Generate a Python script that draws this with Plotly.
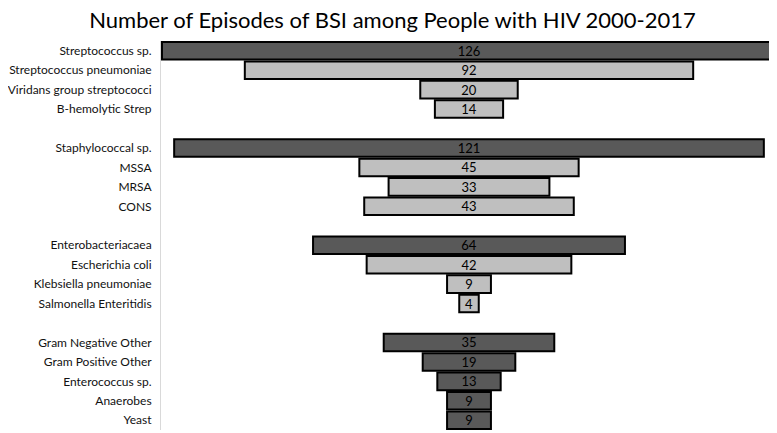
import plotly.graph_objects as go

# categories top to bottom; blank entries are the gaps between groups
categories = [
    "Streptococcus sp.", "Streptococcus pneumoniae", "Viridans group streptococci", "B-hemolytic Strep",
    " ",
    "Staphylococcal sp.", "MSSA", "MRSA", "CONS",
    "  ",
    "Enterobacteriacaea", "Escherichia coli", "Klebsiella pneumoniae", "Salmonella Enteritidis",
    "   ",
    "Gram Negative Other", "Gram Positive Other", "Enterococcus sp.", "Anaerobes", "Yeast",
]
episodes = [126, 92, 20, 14, None, 121, 45, 33, 43, None, 64, 42, 9, 4, None, 35, 19, 13, 9, 9]
shade = ["dark", "light", "light", "light", None,
         "dark", "light", "light", "light", None,
         "dark", "light", "light", "light", None,
         "dark", "dark", "dark", "dark", "dark"]

colours = {"dark": "#595959", "light": "#bfbfbf", None: "rgba(0,0,0,0)"}

widths = [v if v is not None else 0 for v in episodes]
bases = [-w / 2 for w in widths]
labels = [str(v) if v is not None else "" for v in episodes]
edge = [2 if v is not None else 0 for v in episodes]

fig = go.Figure(go.Bar(
    y=categories,
    x=widths,
    base=bases,
    orientation="h",
    marker=dict(color=[colours[s] for s in shade],
                line=dict(color="black", width=edge)),
    text=labels,
    textposition="inside",
    insidetextanchor="middle",
    textangle=0,
    constraintext="none",
    textfont=dict(size=13, color="black"),
    hoverinfo="skip",
))

# the page body adds an 8px offset, so the figure is 8px smaller and margins shifted
fig.update_layout(
    title=dict(text="Number of Episodes of BSI among People with HIV 2000-2017",
               x=0.5, xanchor="center", y=0.5, yanchor="middle",
               yref="container", pad=dict(t=0, b=0),
               font=dict(size=22, color="black")),
    font=dict(family="Lato, Open Sans, sans-serif", size=12, color="#111111"),
    width=769, height=425,
    margin=dict(l=153, r=0, t=33, b=3),
    paper_bgcolor="white", plot_bgcolor="white",
    bargap=0.1,
    showlegend=False,
)
fig.update_layout(title_y=0.972)
fig.update_xaxes(range=[-63.2, 63.2], visible=False, automargin=False)
fig.update_yaxes(autorange="reversed", showline=True, linecolor="#d9d9d9", linewidth=1,
                 ticks="", showgrid=False, ticklabelstandoff=6, automargin=False)

fig.write_html("out.html")
